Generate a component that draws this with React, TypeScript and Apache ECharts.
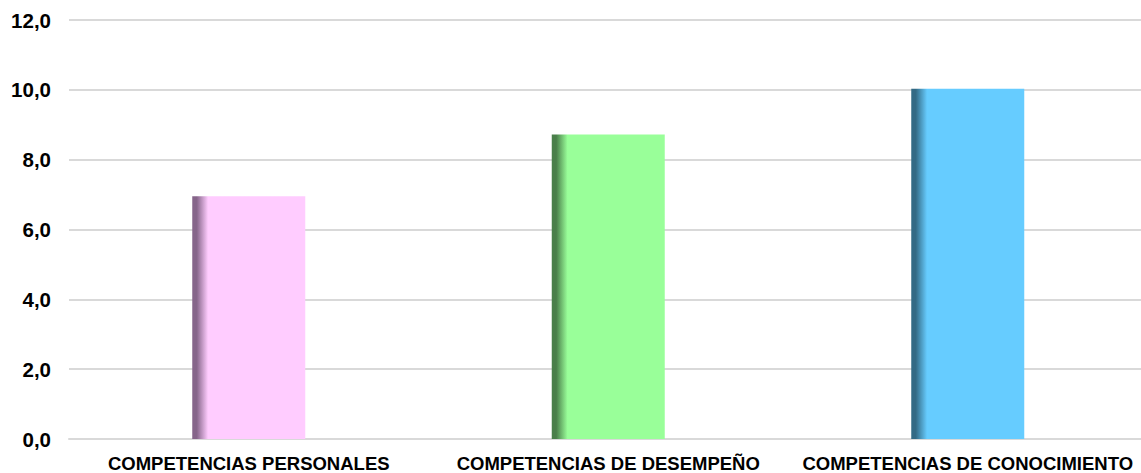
import React, { useEffect, useRef } from "react";
import * as echarts from "echarts";

const categories = [
  "COMPETENCIAS PERSONALES",
  "COMPETENCIAS DE DESEMPEÑO",
  "COMPETENCIAS DE CONOCIMIENTO",
];
const values = [6.95, 8.72, 10.03];
const mainColors = ["#FFCCFF", "#99FF99", "#66CCFF"];
const darkColors = ["#86658A", "#4A7F4A", "#336A85"];

export default function App() {
  const ref = useRef<HTMLDivElement>(null);
  useEffect(() => {
    if (!ref.current) return;
    const chart = echarts.init(ref.current, null, { renderer: "svg" });
    chart.setOption({
      animation: false,
      backgroundColor: "#ffffff",
      grid: { left: 69, right: 12.5, top: 20, bottom: 34, containLabel: false },
      xAxis: {
        type: "category",
        data: categories,
        axisLine: { show: true, lineStyle: { color: "#d9d9d9", width: 2 } },
        axisTick: { show: false },
        axisLabel: {
          interval: 0,
          margin: 15,
          fontFamily: "Liberation Sans, Arial, sans-serif",
          fontWeight: "bold",
          fontSize: 18.5,
          color: "#000000",
        },
      },
      yAxis: {
        type: "value",
        min: 0,
        max: 12,
        interval: 2,
        axisLine: { show: false },
        axisTick: { show: false },
        splitLine: { lineStyle: { color: "#d9d9d9", width: 2 } },
        axisLabel: {
          margin: 18,
          fontFamily: "Liberation Sans, Arial, sans-serif",
          fontWeight: "bold",
          fontSize: 20.5,
          color: "#000000",
          formatter: (v: number) => v.toFixed(1).replace(".", ","),
        },
      },
      series: [
        {
          type: "bar",
          barWidth: 113,
          data: values.map((v, i) => ({
            value: v,
            itemStyle: {
              color: new echarts.graphic.LinearGradient(0, 0, 1, 0, [
                { offset: 0, color: darkColors[i] },
                { offset: 0.04, color: darkColors[i] },
                { offset: 0.14, color: mainColors[i] },
                { offset: 1, color: mainColors[i] },
              ]),
            },
          })),
        },
      ],
    });
    return () => chart.dispose();
  }, []);
  return (
    <div
      style={{
        position: "fixed",
        left: 0,
        top: 0,
        width: 1141,
        height: 473,
        overflow: "hidden",
        background: "#fff",
      }}
    >
      <div ref={ref} style={{ width: 1160, height: 473 }} />
    </div>
  );
}
